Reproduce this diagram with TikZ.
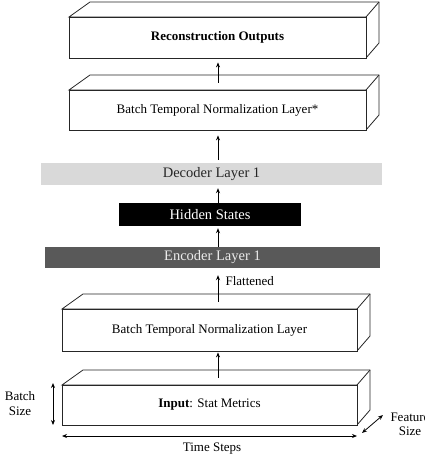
\documentclass[tikz,border=0pt]{standalone}
\usepackage{fontspec}
\setmainfont{Liberation Serif}
\usetikzlibrary{arrows.meta,fit}
\begin{document}
\begin{tikzpicture}[x=1pt,y=-1pt,
  txt/.style={font=\fontsize{13}{15}\selectfont, align=center},
  face/.style={draw=black!85, line width=0.8pt, fill=white},
  arr/.style={-{Stealth[length=5pt,width=4pt]}, line width=0.8pt},
  darr/.style={{Stealth[length=5pt,width=4pt]}-{Stealth[length=5pt,width=4pt]}, line width=0.8pt},
  bar/.style={font=\fontsize{14.5}{16}\selectfont, inner sep=0pt}]
\useasboundingbox (0,0) rectangle (425,459);
\newcommand\mybox[6]{%
  \path[face] (#2,#4) -- ++(21,-15) -- (#3+13,#4-15) -- (#3+13,#5-15) -- (#3,#5) -- (#3,#4) -- cycle;
  \draw[face] (#3,#4) -- (#3+13,#4-15);
  \node[face, inner sep=0pt, fit={(#2,#4) (#3,#5)}] (#1) {};
  \node[txt] (#1-label) at (#1) {#6};
  \coordinate (#1-t) at (218,#4-7.5);
}
\coordinate (ax) at (218,0);
\mybox{rec}{69}{366}{17}{58}{\textbf{Reconstruction Outputs}}
\mybox{bstar}{69}{366}{90}{130}{Batch Temporal Normalization Layer*}
\mybox{btn}{62}{357}{309}{351}{Batch Temporal Normalization Layer}
\mybox{inp}{62}{357}{385}{425}{\textbf{Input}: Stat Metrics}

\node[bar, fill=black!15, text=black!85, fit={(41,163) (382,185)}] (dec) {};
\node[bar, text=black!85] at (dec) {Decoder Layer 1};
\node[bar, fill=black, fit={(119,203) (301,226)}] (hid) {};
\node[bar, text=white] at (hid) {Hidden States};
\node[bar, fill=black!65, fit={(45,247) (380,268)}] (enc) {};
\node[bar, text=white!92!black] at (enc) {Encoder Layer 1};

\draw[arr, shorten >=4pt] (bstar-t) -- (rec.south -| ax);
\draw[arr, shorten <=3pt, shorten >=5pt] (dec.north -| ax) -- (bstar.south -| ax);
\draw[arr, shorten >=3pt] (hid.north -| ax) -- (dec.south -| ax);
\draw[arr, shorten >=2pt] (enc.north -| ax) -- (hid.south -| ax);
\draw[arr, shorten >=7pt] (btn-t) -- (enc.south -| ax);
\node[txt, anchor=west] (flat) at (222,281) {Flattened};
\draw[arr, shorten >=1pt] (inp-t) -- (btn.south -| ax);

\coordinate (bs1) at (53,383);
\coordinate (bs2) at (53,425);
\draw[darr] (bs1) -- (bs2);
\node[txt] (bslab) at (20,404) {Batch\\Size};
\coordinate (ts1) at (62,436);
\coordinate (ts2) at (357,436);
\draw[darr] (ts1) -- (ts2);
\node[txt] (tslab) at (212,449) {Time Steps};
\coordinate (fs1) at (362,433);
\coordinate (fs2) at (383,415);
\draw[darr] (fs1) -- (fs2);
\node[txt, font=\fontsize{13}{14}\selectfont] (fslab) at (410,424) {Feature\\Size};
\end{tikzpicture}
\end{document}
